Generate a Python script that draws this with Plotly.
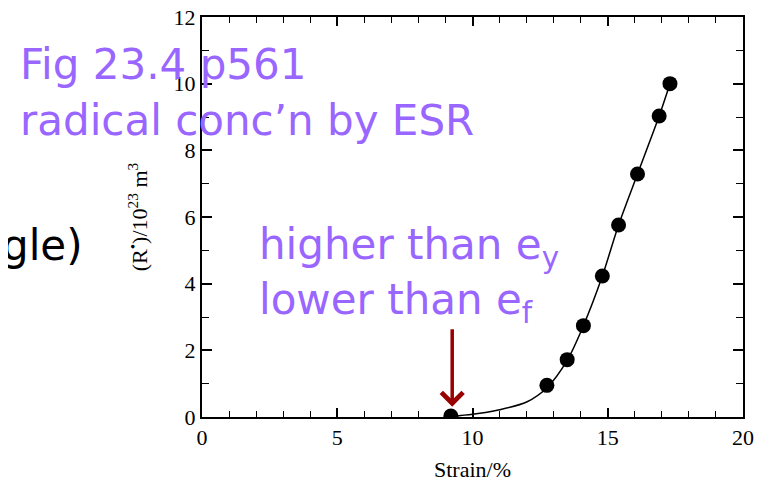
import plotly.graph_objects as go

# Measured data points (Strain %, radical concentration /1e23 m^-3)
strain_pts = [9.2, 12.75, 13.5, 14.1, 14.8, 15.4, 16.1, 16.9, 17.3]
conc_pts = [0.03, 0.95, 1.72, 2.74, 4.23, 5.76, 7.29, 9.03, 10.0]

# Fitted curve
curve_x = [9.2, 10.0, 11.0, 12.0, 12.75, 13.5, 14.1, 14.8, 15.4, 16.1, 16.9, 17.3]
curve_y = [0.02, 0.08, 0.22, 0.45, 0.88, 1.70, 2.74, 4.23, 5.76, 7.29, 9.03, 10.0]

x_ticks = [0, 5, 10, 15, 20]
y_ticks = [0, 2, 4, 6, 8, 10, 12]

PURPLE = "#9966FF"
SANS = "DejaVu Sans"
SERIF = "Liberation Serif"

fig = go.Figure()
fig.add_trace(go.Scatter(x=curve_x, y=curve_y, mode="lines",
                         line=dict(color="black", width=1.5, shape="spline", smoothing=0.8),
                         hoverinfo="skip", showlegend=False))
fig.add_trace(go.Scatter(x=strain_pts, y=conc_pts, mode="markers",
                         marker=dict(color="black", size=15, symbol="circle"),
                         showlegend=False))

axis_common = dict(showline=True, linecolor="black", linewidth=2, mirror="allticks",
                   ticks="inside", tickcolor="black", tickwidth=1.5,
                   showgrid=False, zeroline=False, automargin=False,
                   ticklabeloverflow="allow",
                   tickfont=dict(family=SERIF, size=22, color="black"))

fig.update_xaxes(range=[0, 20], tickvals=x_ticks, ticklen=9,
                 minor=dict(dtick=1, ticks="inside", ticklen=6, tickwidth=1.2, tickcolor="black"),
                 title=dict(text="Strain/%", font=dict(family=SERIF, size=22, color="black"), standoff=12),
                 **axis_common)
fig.update_yaxes(range=[0, 12], tickvals=y_ticks, ticklen=10,
                 minor=dict(dtick=1, ticks="inside", ticklen=7, tickwidth=1.2, tickcolor="black"),
                 title=dict(text="(R<sup>•</sup>)/10<sup>23</sup> m<sup>3</sup>",
                            font=dict(family=SERIF, size=22, color="black"), standoff=20),
                 **axis_common)

def px_x(p):
    return (p - 201.5) / 541.5

def px_y(p):
    return (417.5 - p) / 401.0

annos = [
    dict(text="Fig 23.4 p561", x=px_x(17), y=px_y(64.5), color=PURPLE, anchor="left"),
    dict(text="radical conc’n by ESR", x=px_x(17), y=px_y(120.5), color=PURPLE, anchor="left"),
    dict(text="higher than e<sub>y</sub>", x=px_x(257), y=px_y(247.5), color=PURPLE, anchor="left"),
    dict(text="lower than e<sub>f</sub>", x=px_x(257), y=px_y(302.5), color=PURPLE, anchor="left"),
    dict(text="gle)", x=px_x(84), y=px_y(245.5), color="black", anchor="right"),
]
for a in annos:
    fig.add_annotation(text=a["text"], x=a["x"], y=a["y"], xref="paper", yref="paper",
                       xanchor=a["anchor"], yanchor="middle", showarrow=False,
                       font=dict(family=SANS, size=42, color=a["color"]))

fig.add_annotation(x=9.25, y=0.31, ax=9.25, ay=2.68, xref="x", yref="y", axref="x", ayref="y",
                   text="", showarrow=True, arrowhead=4, arrowsize=1.2, arrowwidth=3.5,
                   arrowcolor="#990000")

# page body has an 8px margin, so the figure is laid out 8px up/left of the reference
fig.update_layout(width=755, height=478, margin=dict(l=193.5, r=20, t=8.5, b=68.5),
                  paper_bgcolor="white", plot_bgcolor="white", showlegend=False)

fig.write_html("out.html")
